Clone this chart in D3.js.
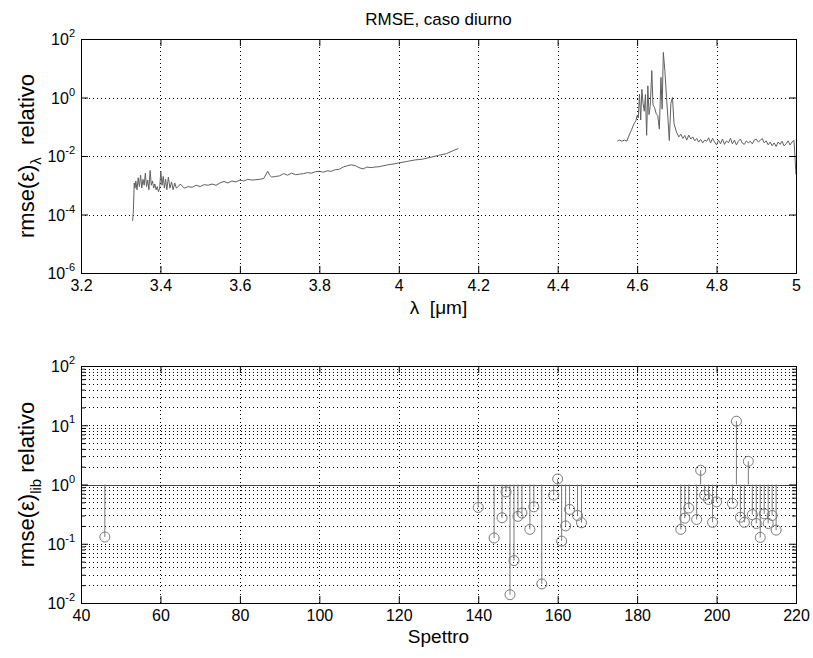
<!DOCTYPE html>
<html>
<head>
<meta charset="utf-8">
<script src="https://cdn.jsdelivr.net/npm/d3@7"></script>
<style>
body { margin: 0; background: #fff; }
text { font-family: "Liberation Sans", Arial, sans-serif; }
</style>
</head>
<body>
<div id="chart"></div>
<script>
// top panel, first spectral window
var lambda1 = [3.330, 3.332, 3.334, 3.336, 3.338, 3.341, 3.344, 3.347, 3.350, 3.353,
    3.356, 3.359, 3.362, 3.365, 3.368, 3.371, 3.374, 3.377, 3.380, 3.383,
    3.386, 3.389, 3.392, 3.395, 3.398, 3.401, 3.404, 3.407, 3.410, 3.413,
    3.416, 3.420, 3.424, 3.428, 3.432, 3.436, 3.440, 3.445, 3.450, 3.46,
    3.47, 3.48, 3.49, 3.50, 3.51, 3.52, 3.53, 3.54, 3.55, 3.56,
    3.57, 3.58, 3.59, 3.60, 3.61, 3.62, 3.63, 3.64, 3.65, 3.66,
    3.67, 3.675, 3.68, 3.69, 3.70, 3.71, 3.72, 3.73, 3.74, 3.75,
    3.76, 3.77, 3.78, 3.79, 3.80, 3.81, 3.82, 3.83, 3.84, 3.85,
    3.86, 3.87, 3.88, 3.89, 3.90, 3.91, 3.92, 3.93, 3.94, 3.95,
    3.96, 3.97, 3.98, 3.99, 4.00, 4.02, 4.04, 4.06, 4.08, 4.10,
    4.12, 4.14, 4.15];
var rmse1 = [6e-5, 1.5e-4, 1.2e-3, 8e-4, 1.4e-3, 7e-4, 1.8e-3, 9e-4, 2.2e-3, 8e-4,
    1.6e-3, 1.0e-3, 2.6e-3, 9e-4, 1.5e-3, 7e-4, 3.2e-3, 1.0e-3, 1.4e-3, 8e-4,
    1.1e-3, 7e-4, 9e-4, 6e-4, 8e-4, 3.0e-3, 1.0e-3, 2.0e-3, 8e-4, 1.6e-3,
    7e-4, 1.9e-3, 8e-4, 1.3e-3, 7e-4, 1.2e-3, 8e-4, 9e-4, 1.1e-3, 8e-4,
    9e-4, 8.5e-4, 1.0e-3, 9e-4, 1.05e-3, 1.0e-3, 1.1e-3, 1.0e-3, 1.2e-3, 1.35e-3,
    1.2e-3, 1.4e-3, 1.3e-3, 1.5e-3, 1.4e-3, 1.6e-3, 1.5e-3, 1.55e-3, 1.6e-3, 1.7e-3,
    3.0e-3, 2.2e-3, 1.9e-3, 2.0e-3, 2.1e-3, 2.5e-3, 2.2e-3, 2.6e-3, 2.3e-3, 2.4e-3,
    2.5e-3, 2.7e-3, 2.6e-3, 2.9e-3, 3.0e-3, 2.8e-3, 3.1e-3, 3.0e-3, 3.4e-3, 3.5e-3,
    4.2e-3, 4.6e-3, 5.0e-3, 4.7e-3, 4.0e-3, 3.6e-3, 4.2e-3, 4.0e-3, 4.2e-3, 4.3e-3,
    4.6e-3, 4.9e-3, 5.2e-3, 5.4e-3, 5.8e-3, 6.5e-3, 7.3e-3, 7.8e-3, 9e-3, 1.05e-2,
    1.2e-2, 1.6e-2, 1.8e-2];

// top panel, second spectral window
var lambda2 = [4.550, 4.556, 4.562, 4.568, 4.574, 4.580, 4.586, 4.592, 4.597, 4.600,
    4.603, 4.606, 4.609, 4.612, 4.615, 4.618, 4.621, 4.624, 4.627, 4.630,
    4.633, 4.637, 4.640, 4.644, 4.648, 4.652, 4.656, 4.660, 4.663, 4.666,
    4.670, 4.674, 4.678, 4.681, 4.685, 4.689, 4.693, 4.699, 4.705, 4.710,
    4.715, 4.720, 4.725, 4.730, 4.735, 4.740, 4.745, 4.750, 4.755, 4.760,
    4.765, 4.770, 4.775, 4.780, 4.785, 4.790, 4.795, 4.800, 4.805, 4.810,
    4.815, 4.820, 4.825, 4.830, 4.835, 4.840, 4.845, 4.850, 4.855, 4.860,
    4.865, 4.870, 4.875, 4.880, 4.885, 4.890, 4.895, 4.900, 4.905, 4.910,
    4.915, 4.920, 4.925, 4.930, 4.935, 4.940, 4.945, 4.950, 4.955, 4.960,
    4.965, 4.970, 4.975, 4.980, 4.985, 4.990, 4.995, 5.000];
var rmse2 = [0.032, 0.035, 0.032, 0.035, 0.032, 0.052, 0.079, 0.126, 0.16, 0.24,
    0.2, 1.3, 0.17, 1.9, 0.63, 0.34, 1.26, 0.051, 2.5, 0.26,
    0.5, 8.3, 0.56, 0.45, 0.28, 0.24, 0.083, 4.9, 0.4, 35,
    7.9, 1.0, 0.16, 0.034, 0.63, 1.0, 0.126, 0.066, 0.045, 0.056,
    0.04, 0.05, 0.035, 0.052, 0.038, 0.045, 0.033, 0.04, 0.03, 0.037,
    0.028, 0.035, 0.032, 0.042, 0.028, 0.04, 0.03, 0.024, 0.035, 0.026,
    0.038, 0.025, 0.033, 0.028, 0.04, 0.026, 0.035, 0.024, 0.032, 0.038,
    0.0275, 0.025, 0.033, 0.028, 0.032, 0.026, 0.035, 0.038, 0.03, 0.034,
    0.04, 0.028, 0.033, 0.024, 0.03, 0.0224, 0.028, 0.021, 0.03, 0.025,
    0.032, 0.022, 0.026, 0.033, 0.024, 0.03, 0.034, 0.0023];

var xTicksTop = [3.2, 3.4, 3.6, 3.8, 4, 4.2, 4.4, 4.6, 4.8, 5];
var yTicksTop = [1e-6, 1e-4, 1e-2, 1, 1e2];

// bottom panel: rmse per library spectrum
var spettri = [46, 140, 144, 146, 147, 148, 149, 150, 151, 153,
    154, 156, 159, 160, 161, 162, 163, 165, 166,
    191, 192, 193, 195, 196, 197, 198, 199, 200, 204,
    205, 206, 207, 208, 209, 210, 211, 212, 213, 214, 215];
var rmseLib = [0.13, 0.41, 0.125, 0.275, 0.75, 0.0138, 0.052, 0.29, 0.33, 0.175,
    0.42, 0.021, 0.66, 1.24, 0.111, 0.2, 0.38, 0.30, 0.226,
    0.175, 0.27, 0.40, 0.257, 1.74, 0.66, 0.56, 0.23, 0.51, 0.48,
    11.7, 0.28, 0.23, 2.46, 0.31, 0.22, 0.128, 0.32, 0.22, 0.30, 0.17];

var xTicksBot = [40, 60, 80, 100, 120, 140, 160, 180, 200, 220];
var yTicksBot = [1e-2, 1e-1, 1, 1e1, 1e2];

function supLabels(g, y, ticks) {
    var t = g.selectAll("text.ylab")
        .data(ticks)
        .enter()
        .append("text")
        .attr("class", "ylab")
        .attr("x", -6)
        .attr("y", function (d) { return y(d); })
        .attr("dy", "0.4em")
        .attr("text-anchor", "end")
        .attr("font-size", 16);
    t.append("tspan").text("10");
    t.append("tspan")
        .attr("font-size", 11)
        .attr("dy", "-0.75em")
        .text(function (d) { return Math.round(Math.log10(d)); });
}

function frame(g, x, y, w, h, xt, yt, yMinor) {
    var tk = 7;
    var fmt = d3.format("~g");

    var bx = g.append("g").attr("transform", "translate(0," + h + ")")
        .call(d3.axisBottom(x).tickValues(xt).tickSize(-tk).tickPadding(7).tickFormat(fmt));
    g.append("g")
        .call(d3.axisTop(x).tickValues(xt).tickSize(-tk).tickFormat(""));
    g.append("g")
        .call(d3.axisLeft(y).tickValues(yt).tickSize(-tk).tickFormat(""));
    g.append("g").attr("transform", "translate(" + w + ",0)")
        .call(d3.axisRight(y).tickValues(yt).tickSize(-tk).tickFormat(""));
    if (yMinor) {
        g.append("g").call(d3.axisLeft(y).tickValues(yMinor).tickSize(-4).tickFormat(""));
        g.append("g").attr("transform", "translate(" + w + ",0)")
            .call(d3.axisRight(y).tickValues(yMinor).tickSize(-4).tickFormat(""));
    }
    g.selectAll(".domain").remove();
    g.selectAll(".tick line").attr("stroke", "#000");
    bx.attr("font-size", 16).attr("font-family", "Liberation Sans, Arial, sans-serif");
    bx.selectAll("text").attr("fill", "#000");

    g.append("rect")
        .attr("width", w)
        .attr("height", h)
        .attr("fill", "none")
        .attr("stroke", "#000")
        .attr("stroke-width", 1)
        .attr("shape-rendering", "crispEdges");

    supLabels(g, y, yt);
}

function init() {

    var svg = d3.select("#chart")
        .append("svg")
        .attr("width", 813)
        .attr("height", 658);

    var left = 81, right = 796;
    var w = right - left;

    // ---------- top panel ----------
    var top1 = 39, h1 = 234;
    var g1 = svg.append("g").attr("transform", "translate(" + left + "," + top1 + ")");

    var x1 = d3.scaleLinear().domain([3.2, 5]).range([0, w]);
    var y1 = d3.scaleLog().domain([1e-6, 1e2]).range([h1, 0]);

    var grid1 = g1.append("g")
        .attr("stroke", "#000")
        .attr("stroke-dasharray", "1,3")
        .attr("shape-rendering", "crispEdges");
    grid1.selectAll("line.gx")
        .data(xTicksTop.slice(1, -1))
        .enter().append("line")
        .attr("x1", function (d) { return Math.round(x1(d)) + 0.5; })
        .attr("x2", function (d) { return Math.round(x1(d)) + 0.5; })
        .attr("y1", 0).attr("y2", h1);
    grid1.selectAll("line.gy")
        .data(yTicksTop.slice(1, -1))
        .enter().append("line")
        .attr("y1", function (d) { return Math.round(y1(d)) + 0.5; })
        .attr("y2", function (d) { return Math.round(y1(d)) + 0.5; })
        .attr("x1", 0).attr("x2", w);

    var line1 = d3.line()
        .x(function (d) { return x1(d[0]); })
        .y(function (d) { return y1(d[1]); });

    g1.append("path")
        .datum(d3.zip(lambda1, rmse1))
        .attr("d", line1)
        .attr("fill", "none")
        .attr("stroke", "#606060")
        .attr("stroke-width", 1);
    g1.append("path")
        .datum(d3.zip(lambda2, rmse2))
        .attr("d", line1)
        .attr("fill", "none")
        .attr("stroke", "#606060")
        .attr("stroke-width", 1);

    frame(g1, x1, y1, w, h1, xTicksTop, yTicksTop, null);

    svg.append("text")
        .attr("x", left + w / 2)
        .attr("y", 25)
        .attr("text-anchor", "middle")
        .attr("font-size", 17)
        .text("RMSE, caso diurno");

    svg.append("text")
        .attr("x", left + w / 2)
        .attr("y", top1 + h1 + 41)
        .attr("text-anchor", "middle")
        .attr("font-size", 19)
        .attr("xml:space", "preserve")
        .text("λ  [μm]");

    var yl1 = svg.append("text")
        .attr("transform", "translate(34," + (top1 + h1 / 2) + ") rotate(-90)")
        .attr("text-anchor", "middle")
        .attr("font-size", 22)
        .attr("xml:space", "preserve");
    yl1.append("tspan").text("rmse(ε)");
    yl1.append("tspan").attr("font-size", 15).attr("dy", 7).text("λ");
    yl1.append("tspan").attr("dy", -7).text("  relativo");

    // ---------- bottom panel ----------
    var top2 = 366, h2 = 237;
    var g2 = svg.append("g").attr("transform", "translate(" + left + "," + top2 + ")");

    var x2 = d3.scaleLinear().domain([40, 220]).range([0, w]);
    var y2 = d3.scaleLog().domain([1e-2, 1e2]).range([h2, 0]);

    var minor = [];
    [1e-2, 1e-1, 1, 10].forEach(function (dec) {
        for (var m = 2; m <= 9; m++) minor.push(dec * m);
    });

    var grid2 = g2.append("g")
        .attr("stroke", "#000")
        .attr("stroke-dasharray", "1,3")
        .attr("shape-rendering", "crispEdges");
    grid2.selectAll("line.gx")
        .data(xTicksBot.slice(1, -1))
        .enter().append("line")
        .attr("x1", function (d) { return Math.round(x2(d)) + 0.5; })
        .attr("x2", function (d) { return Math.round(x2(d)) + 0.5; })
        .attr("y1", 0).attr("y2", h2);
    grid2.selectAll("line.gy")
        .data(yTicksBot.slice(1, -1).concat(minor))
        .enter().append("line")
        .attr("y1", function (d) { return Math.round(y2(d)) + 0.5; })
        .attr("y2", function (d) { return Math.round(y2(d)) + 0.5; })
        .attr("x1", 0).attr("x2", w);

    // stem baseline at 1
    g2.append("line")
        .attr("x1", 0).attr("x2", w)
        .attr("y1", Math.round(y2(1)) + 0.5)
        .attr("y2", Math.round(y2(1)) + 0.5)
        .attr("stroke", "#444")
        .attr("shape-rendering", "crispEdges");

    var stems = g2.selectAll("g.stem")
        .data(d3.zip(spettri, rmseLib))
        .enter()
        .append("g")
        .attr("class", "stem");

    stems.append("line")
        .attr("x1", function (d) { return x2(d[0]); })
        .attr("x2", function (d) { return x2(d[0]); })
        .attr("y1", y2(1))
        .attr("y2", function (d) { return y2(d[1]); })
        .attr("stroke", "#7a7a7a");

    stems.append("circle")
        .attr("cx", function (d) { return x2(d[0]); })
        .attr("cy", function (d) { return y2(d[1]); })
        .attr("r", 5)
        .attr("fill", "none")
        .attr("stroke", "#7a7a7a");

    frame(g2, x2, y2, w, h2, xTicksBot, yTicksBot, minor);

    svg.append("text")
        .attr("x", left + w / 2)
        .attr("y", top2 + h2 + 40)
        .attr("text-anchor", "middle")
        .attr("font-size", 19)
        .text("Spettro");

    var yl2 = svg.append("text")
        .attr("transform", "translate(34," + (top2 + h2 / 2) + ") rotate(-90)")
        .attr("text-anchor", "middle")
        .attr("font-size", 22)
        .attr("xml:space", "preserve");
    yl2.append("tspan").text("rmse(ε)");
    yl2.append("tspan").attr("font-size", 15).attr("dy", 7).text("lib");
    yl2.append("tspan").attr("dy", -7).text(" relativo");
}

init();
</script>
</body>
</html>
